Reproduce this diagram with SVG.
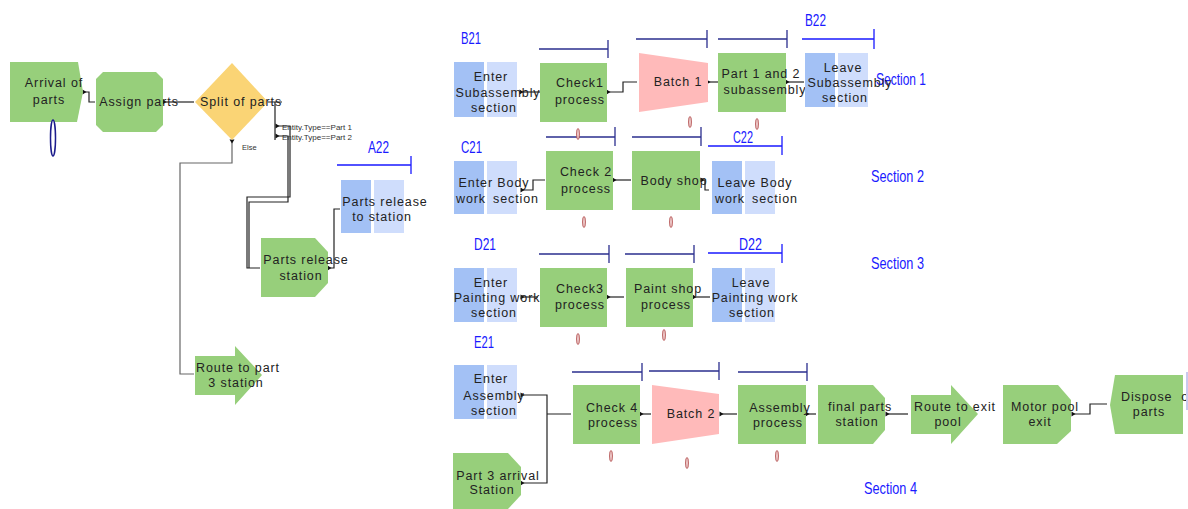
<svg xmlns="http://www.w3.org/2000/svg" xmlns:xlink="http://www.w3.org/1999/xlink" width="1188" height="509" viewBox="0 0 1188 509">
<style>
.g{fill:#97CF7B}
.o{fill:#FAD475}
.p{fill:#FFBABA}
.b1{fill:#A3C1F5}
.b2{fill:#CFDDFC}
.t{font-family:"Liberation Sans",Arial,sans-serif;font-size:12.5px;letter-spacing:0.9px;fill:#222;text-anchor:middle}
.ts{font-family:"Liberation Sans",Arial,sans-serif;font-size:7.5px;fill:#333}
.lb{font-family:"Liberation Sans",Arial,sans-serif;font-size:17px;fill:#1a1aff}
.nv{stroke:#2b2f8f;stroke-width:1.3;fill:none}
.bl{stroke:#1a1aff;stroke-width:1.3;fill:none}
.c{stroke:#222;stroke-width:1.2;fill:none}
.cg{stroke:#666;stroke-width:1.2;fill:none}
.q{fill:#F3D6D6;stroke:#B04848;stroke-width:0.9}
</style>
<defs>
<path id="m" d="M-1.5,-2.5 L2.5,0 L-1.5,2.5Z" fill="#111"/>
<path id="md" d="M-2.5,-1.5 L0,2.5 L2.5,-1.5Z" fill="#111"/>
</defs>

<g id="connectors">
<path class="c" d="M84,92 H89 V102 H95"/>
<path class="c" d="M164,102 H194"/>
<path class="c" d="M268,102 H282 M275,102 V140"/>
<path class="c" d="M276,126 H290 V197 H247 V268 H260"/>
<path class="c" d="M276,136 H288 V202 H249 V268"/>
<path class="cg" d="M232,140 V163 H180 V374 H194"/>
<path class="c" d="M329,268 H334 V209 H340"/>
<path class="c" d="M521,92 H540"/>
<path class="c" d="M608,92 H623 V82 H637"/>
<path class="c" d="M708,82 H718"/>
<path class="c" d="M787,82 H804"/>
<path class="c" d="M522,190 H533 V180 H545"/>
<path class="c" d="M614,180 H631"/>
<path class="c" d="M702,180 H705 V190 H709"/>
<path class="c" d="M522,297 H538"/>
<path class="c" d="M608,297 H624"/>
<path class="c" d="M694,297 H710"/>
<path class="c" d="M522,395 H547 V483 H522 M547,414 H571"/>
<path class="c" d="M641,414 H651"/>
<path class="c" d="M721,414 H737"/>
<path class="c" d="M807,414 H816"/>
<path class="c" d="M887,414 H908"/>
<path class="c" d="M1073,414 H1090 V404 H1107"/>
<use xlink:href="#m" x="84" y="92"/>
<use xlink:href="#m" x="164" y="102"/>
<use xlink:href="#m" x="277" y="126"/>
<use xlink:href="#m" x="277" y="136"/>
<use xlink:href="#md" x="232" y="141"/>
<use xlink:href="#m" x="329" y="268"/>
<use xlink:href="#m" x="521" y="92"/>
<use xlink:href="#m" x="608" y="92"/>
<use xlink:href="#m" x="708" y="82"/>
<use xlink:href="#m" x="787" y="82"/>
<use xlink:href="#m" x="522" y="190"/>
<use xlink:href="#m" x="614" y="180"/>
<use xlink:href="#m" x="702" y="180"/>
<use xlink:href="#m" x="522" y="297"/>
<use xlink:href="#m" x="608" y="297"/>
<use xlink:href="#m" x="694" y="297"/>
<use xlink:href="#m" x="522" y="395"/>
<use xlink:href="#m" x="522" y="483"/>
<use xlink:href="#m" x="641" y="414"/>
<use xlink:href="#m" x="721" y="414"/>
<use xlink:href="#m" x="807" y="414"/>
<use xlink:href="#m" x="887" y="414"/>
<use xlink:href="#m" x="1073" y="414"/>
</g>

<g id="resource-lines">
<path class="bl" d="M337,165 H411 M411,156 V174"/>
<path class="nv" d="M539,49 H608 M608,40 V58"/>
<path class="nv" d="M636,39 H707 M707,30 V48"/>
<path class="nv" d="M718,39 H787 M787,30 V48"/>
<path class="bl" d="M802,39 H874 M874,29 V49"/>
<path class="nv" d="M546,137 H615 M615,127 V146"/>
<path class="nv" d="M632,137 H701 M701,127 V146"/>
<path class="bl" d="M708,146 H782 M782,136 V155"/>
<path class="nv" d="M539,254 H609 M609,245 V263"/>
<path class="nv" d="M625,254 H694 M694,245 V263"/>
<path class="bl" d="M708,253 H782 M782,244 V263"/>
<path class="nv" d="M572,372 H642 M642,363 V381"/>
<path class="nv" d="M649,371 H719 M719,362 V380"/>
<path class="nv" d="M738,372 H807 M807,363 V381"/>
</g>

<g id="labels">
<text class="lb" x="368" y="153" textLength="21" lengthAdjust="spacingAndGlyphs">A22</text>
<text class="lb" x="461" y="44" textLength="20" lengthAdjust="spacingAndGlyphs">B21</text>
<text class="lb" x="805" y="26" textLength="21" lengthAdjust="spacingAndGlyphs">B22</text>
<text class="lb" x="876" y="85" textLength="50" lengthAdjust="spacingAndGlyphs">Section 1</text>
<text class="lb" x="461" y="153" textLength="21" lengthAdjust="spacingAndGlyphs">C21</text>
<text class="lb" x="733" y="143" textLength="20" lengthAdjust="spacingAndGlyphs">C22</text>
<text class="lb" x="871" y="182" textLength="53" lengthAdjust="spacingAndGlyphs">Section 2</text>
<text class="lb" x="474" y="250" textLength="22" lengthAdjust="spacingAndGlyphs">D21</text>
<text class="lb" x="739" y="250" textLength="23" lengthAdjust="spacingAndGlyphs">D22</text>
<text class="lb" x="871" y="269" textLength="53" lengthAdjust="spacingAndGlyphs">Section 3</text>
<text class="lb" x="474" y="348" textLength="20" lengthAdjust="spacingAndGlyphs">E21</text>
<text class="lb" x="864" y="494" textLength="53" lengthAdjust="spacingAndGlyphs">Section 4</text>
</g>

<g id="arrival">
<path class="g" d="M10,62 H78 L83,92 L77,122 H10 Z"/>
<text class="t" x="54" y="87">Arrival of</text>
<text class="t" x="49" y="104">parts</text>
<ellipse cx="53" cy="138" rx="2.5" ry="18" fill="#fff" stroke="#1c1c8c" stroke-width="1.5"/>
</g>
<g id="assign">
<path class="g" d="M103,72 H156 L163,79 V125 L156,132 H103 L96,125 V79 Z"/>
<text class="t" x="139" y="106">Assign parts</text>
</g>
<g id="split">
<path class="o" d="M232,63 L268,102 L232,140 L195,102 Z"/>
<text class="t" x="241" y="106">Split of parts</text>
<text class="ts" x="282" y="130" textLength="70" lengthAdjust="spacingAndGlyphs">Entity.Type==Part 1</text>
<text class="ts" x="282" y="140" textLength="70" lengthAdjust="spacingAndGlyphs">Entity.Type==Part 2</text>
<text class="ts" x="242" y="150">Else</text>
</g>
<g id="parts-release-station">
<path class="g" d="M261,238 H315 L328,252 V283 L315,297 H261 Z"/>
<text class="t" x="306" y="264">Parts release</text>
<text class="t" x="301" y="280">station</text>
</g>
<g id="parts-release-to-station">
<rect class="b1" x="341" y="180" width="30" height="53"/>
<rect class="b2" x="374" y="180" width="30" height="53"/>
<text class="t" x="385" y="206">Parts release</text>
<text class="t" x="382" y="221">to station</text>
</g>
<g id="route-part3">
<path class="g" d="M195,356 H235 V346 L262,375 L235,405 V395 H195 Z"/>
<text class="t" x="238" y="372">Route to part</text>
<text class="t" x="236" y="387">3 station</text>
</g>

<g id="enter-subassembly">
<rect class="b1" x="454" y="62" width="30" height="55"/>
<rect class="b2" x="487" y="62" width="30" height="55"/>
<text class="t" x="491" y="81">Enter</text>
<text class="t" x="498" y="97">Subassembly</text>
<text class="t" x="494" y="112">section</text>
</g>
<g id="check1">
<rect class="g" x="540" y="63" width="67" height="59"/>
<text class="t" x="580" y="87">Check1</text>
<text class="t" x="580" y="104">process</text>
<ellipse class="q" cx="578" cy="134" rx="1.4" ry="5.5"/>
</g>
<g id="batch1">
<path class="p" d="M639,53 L708,63 V102 L639,112 Z"/>
<text class="t" x="678" y="86">Batch 1</text>
<ellipse class="q" cx="690" cy="122" rx="1.4" ry="5.5"/>
</g>
<g id="part12">
<rect class="g" x="718" y="53" width="68" height="59"/>
<text class="t" x="761" y="78">Part 1 and 2</text>
<text class="t" x="765" y="94">subassembly</text>
<ellipse class="q" cx="757" cy="124" rx="1.4" ry="5.5"/>
</g>
<g id="leave-subassembly">
<rect class="b1" x="805" y="53" width="30" height="54"/>
<rect class="b2" x="838" y="53" width="30" height="54"/>
<text class="t" x="843" y="72">Leave</text>
<text class="t" x="850" y="87">Subassembly</text>
<text class="t" x="845" y="102">section</text>
</g>

<g id="enter-body">
<rect class="b1" x="454" y="161" width="30" height="53"/>
<rect class="b2" x="487" y="161" width="30" height="53"/>
<text class="t" x="494" y="187">Enter Body</text>
<text class="t" x="471" y="203">work</text>
<text class="t" x="516" y="203">section</text>
</g>
<g id="check2">
<rect class="g" x="546" y="151" width="67" height="59"/>
<text class="t" x="586" y="176">Check 2</text>
<text class="t" x="586" y="193">process</text>
<ellipse class="q" cx="584" cy="222" rx="1.4" ry="5.5"/>
</g>
<g id="body-shop">
<rect class="g" x="632" y="151" width="68" height="59"/>
<text class="t" x="674" y="185">Body shop</text>
<ellipse class="q" cx="671" cy="222" rx="1.4" ry="5.5"/>
</g>
<g id="leave-body">
<rect class="b1" x="712" y="161" width="30" height="53"/>
<rect class="b2" x="745" y="161" width="30" height="53"/>
<text class="t" x="755" y="187">Leave Body</text>
<text class="t" x="730" y="203">work</text>
<text class="t" x="775" y="203">section</text>
</g>

<g id="enter-painting">
<rect class="b1" x="454" y="268" width="30" height="54"/>
<rect class="b2" x="487" y="268" width="30" height="54"/>
<text class="t" x="491" y="287">Enter</text>
<text class="t" x="497" y="302">Painting work</text>
<text class="t" x="494" y="317">section</text>
</g>
<g id="check3">
<rect class="g" x="540" y="268" width="67" height="59"/>
<text class="t" x="580" y="293">Check3</text>
<text class="t" x="580" y="309">process</text>
<ellipse class="q" cx="578" cy="339" rx="1.4" ry="5.5"/>
</g>
<g id="paint-shop">
<rect class="g" x="626" y="268" width="67" height="59"/>
<text class="t" x="668" y="293">Paint shop</text>
<text class="t" x="666" y="309">process</text>
<ellipse class="q" cx="664" cy="335" rx="1.4" ry="5.5"/>
</g>
<g id="leave-painting">
<rect class="b1" x="712" y="268" width="30" height="54"/>
<rect class="b2" x="745" y="268" width="30" height="54"/>
<text class="t" x="751" y="287">Leave</text>
<text class="t" x="755" y="302">Painting work</text>
<text class="t" x="752" y="317">section</text>
</g>

<g id="enter-assembly">
<rect class="b1" x="454" y="365" width="30" height="54"/>
<rect class="b2" x="487" y="365" width="30" height="54"/>
<text class="t" x="491" y="383">Enter</text>
<text class="t" x="494" y="400">Assembly</text>
<text class="t" x="494" y="415">section</text>
</g>
<g id="part3-arrival">
<path class="g" d="M453,453 H508 L521,467 V495 L508,509 H453 Z"/>
<text class="t" x="498" y="480">Part 3 arrival</text>
<text class="t" x="492" y="494">Station</text>
</g>
<g id="check4">
<rect class="g" x="573" y="385" width="67" height="59"/>
<text class="t" x="612" y="412">Check 4</text>
<text class="t" x="613" y="427">process</text>
<ellipse class="q" cx="611" cy="456" rx="1.4" ry="5.5"/>
</g>
<g id="batch2">
<path class="p" d="M652,385 L719,394 V434 L652,444 Z"/>
<text class="t" x="691" y="418">Batch 2</text>
<ellipse class="q" cx="687" cy="463" rx="1.4" ry="5.5"/>
</g>
<g id="assembly">
<rect class="g" x="738" y="385" width="68" height="59"/>
<text class="t" x="780" y="412">Assembly</text>
<text class="t" x="778" y="427">process</text>
<ellipse class="q" cx="777" cy="456" rx="1.4" ry="5.5"/>
</g>
<g id="final-parts">
<path class="g" d="M818,385 H873 L885,398 V430 L873,444 H818 Z"/>
<text class="t" x="860" y="411">final parts</text>
<text class="t" x="857" y="426">station</text>
</g>
<g id="route-exit">
<path class="g" d="M911,395 H951 V385 L978,414 L951,444 V434 H911 Z"/>
<text class="t" x="955" y="411">Route to exit</text>
<text class="t" x="948" y="426">pool</text>
</g>
<g id="motor-pool">
<path class="g" d="M1003,385 H1058 L1071,400 V431 L1057,444 H1003 Z"/>
<text class="t" x="1045" y="411">Motor pool</text>
<text class="t" x="1040" y="426">exit</text>
</g>
<g id="dispose">
<path class="g" d="M1115,375 H1183 V434 H1115 L1110,405 Z"/>
<text class="t" x="1121" y="401" style="text-anchor:start" xml:space="preserve">Dispose  of</text>
<text class="t" x="1149" y="416">parts</text>
<rect x="1186" y="372" width="2" height="38" fill="#C9C9EE"/>
</g>
</svg>
